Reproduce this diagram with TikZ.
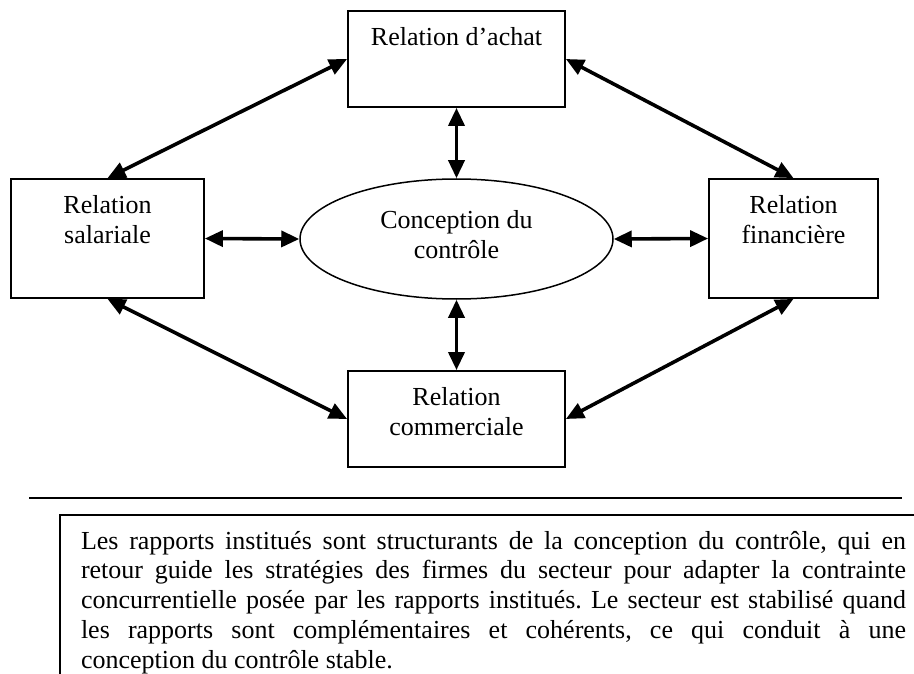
\documentclass[tikz,border=0pt]{standalone}
\usepackage{fontspec}
\setmainfont{Liberation Serif}
\usetikzlibrary{arrows.meta,shapes.geometric,calc}
\setlength{\parindent}{0pt}
\frenchspacing
\begin{document}
\begin{tikzpicture}[x=1pt,y=-1pt,
  txt/.style={font=\fontsize{26}{30}\selectfont, align=center, inner sep=0pt},
  relbox/.style={draw, line width=1.8pt, rectangle, inner sep=0pt},
  centre/.style={draw, line width=1.5pt, ellipse, inner sep=0pt,
                 minimum width=313pt, minimum height=120pt},
  tip/.tip={Triangle[length=18pt,width=16pt]},
  link/.style={line width=3.6pt, tip-tip},
  rule/.style={line width=2pt},
  notebox/.style={draw, line width=2pt, anchor=north west,
                  text width=825pt, inner xsep=21pt, inner ysep=16pt,
                  align=justify, font=\fontsize{26}{29.8}\selectfont}
]
\useasboundingbox (0,0) rectangle (914,674);
\clip (0,0) rectangle (914,674);

% the four relations and the central conception
\node[relbox, minimum width=217pt, minimum height=96pt]  (achat) at (456.5,59) {};
\node[relbox, minimum width=193pt, minimum height=119pt] (sal)   at (107.5,238.5) {};
\node[relbox, minimum width=169pt, minimum height=119pt] (fin)   at (793.5,238.5) {};
\node[relbox, minimum width=217pt, minimum height=96pt]  (comm)  at (456.5,419) {};
\node[centre] (ctrl) at (456.5,239) {};

% labels, set near the top of each box
\node[txt, anchor=north] (achatlbl) at ([yshift=-17pt]achat.north) {Relation d’achat};
\node[txt, anchor=north] (sallbl)   at ([yshift=-17pt]sal.north)   {Relation\\salariale};
\node[txt, anchor=north] (finlbl)   at ([yshift=-17pt]fin.north)   {Relation\\financière};
\node[txt, anchor=north] (commlbl)  at ([yshift=-17pt]comm.north)  {Relation\\commerciale};
\node[txt] (ctrllbl) at (456.5,234.6) {Conception du\\contrôle};

% two-way links
\draw[link] (achat.south) -- (ctrl.north);
\draw[link] (comm.north)  -- (ctrl.south);
\draw[link] (sal.east)    -- (ctrl.west);
\draw[link] (fin.west)    -- (ctrl.east);
\draw[link] (sal.north)   -- (achat.west);
\draw[link] (fin.north)   -- (achat.east);
\draw[link] (sal.south)   -- (comm.west);
\draw[link] (fin.south)   -- (comm.east);

% separator and explanatory note
\coordinate (sepL) at (29,498);
\coordinate (sepR) at (902,498);
\draw[rule] (sepL) -- (sepR);

\node[notebox] (note) at (59,514) {\hyphenpenalty=10000
Les rapports institués sont structurants de la conception du contrôle, qui en\linebreak
retour guide les stratégies des firmes du secteur pour adapter la contrainte\linebreak
concurrentielle posée par les rapports institués. Le secteur est stabilisé quand\linebreak
les rapports sont complémentaires et cohérents, ce qui conduit à une\linebreak
conception du contrôle stable.};
\end{tikzpicture}
\end{document}
